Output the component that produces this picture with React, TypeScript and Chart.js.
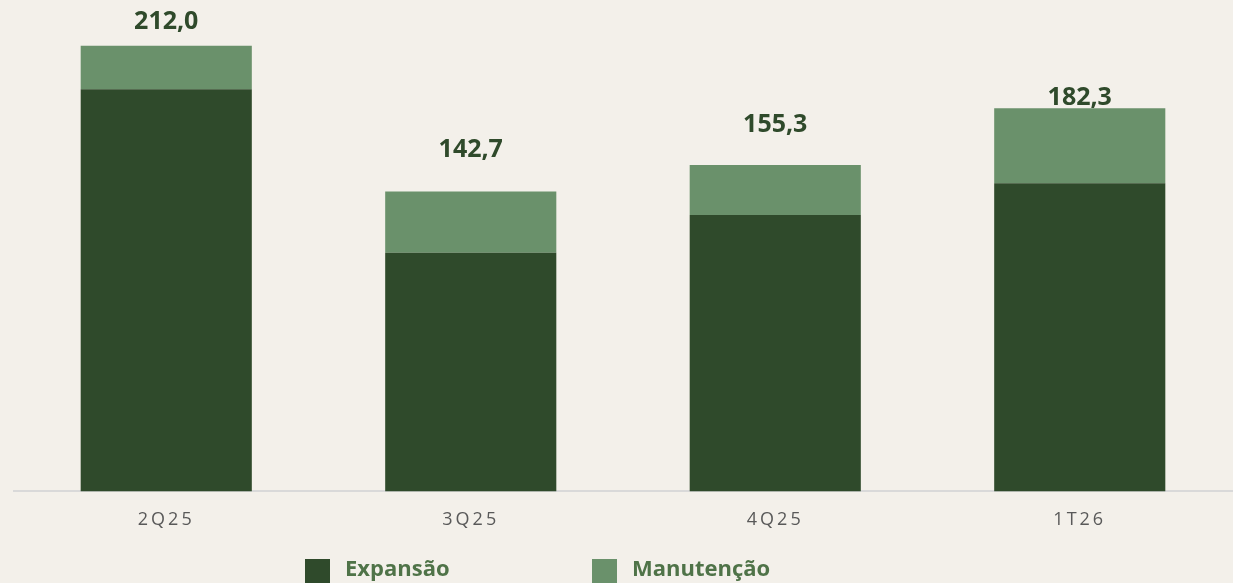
import React, { useEffect, useRef } from "react";
import { Chart, registerables } from "chart.js";

Chart.register(...registerables);

const categories = ["2Q25", "3Q25", "4Q25", "1T26"];
const expansao = [191.4, 113.5, 131.5, 146.6];
const manutencao = [20.6, 29.2, 23.8, 35.7];
const seriesNames = ["Expansão", "Manutenção"];

const COLORS = {
  bg: "#f3f0ea",
  dark: "#2f4a2b",
  light: "#6a916b",
  labelText: "#2f4a2b",
  legendText: "#4f7348",
  tick: "#595959",
  axis: "#d9d9d9",
};

const FONT = "'Open Sans', 'Noto Sans', sans-serif";

const fmt = (v: number) => v.toFixed(1).replace(".", ",");

const letterSpacingPlugin = {
  id: "tickSpacing",
  beforeDraw(chart: any) {
    (chart.ctx as any).letterSpacing = "3px";
  },
  beforeDatasetsDraw(chart: any) {
    (chart.ctx as any).letterSpacing = "0px";
  },
};

const totalsPlugin = {
  id: "totals",
  afterDatasetsDraw(chart: any, _args: any, opts: any) {
    const ctx = chart.ctx;
    const n = chart.data.datasets.length;
    const topMeta = chart.getDatasetMeta(n - 1);
    ctx.save();
    (ctx as any).letterSpacing = "0px";
    ctx.font = `bold 25px ${FONT}`;
    ctx.fillStyle = COLORS.labelText;
    ctx.textAlign = "center";
    ctx.textBaseline = "alphabetic";
    topMeta.data.forEach((el: any, i: number) => {
      let total = 0;
      chart.data.datasets.forEach((ds: any) => (total += ds.data[i]));
      const gap = (opts.gaps && opts.gaps[i]) ?? 20;
      ctx.fillText(fmt(total), el.x, el.y - gap);
    });
    ctx.restore();
  },
};

const legendPlugin = {
  id: "customLegend",
  afterDraw(chart: any, _args: any, opts: any) {
    const ctx = chart.ctx;
    ctx.save();
    (ctx as any).letterSpacing = "0px";
    ctx.font = `bold 22px ${FONT}`;
    ctx.textAlign = "left";
    ctx.textBaseline = "alphabetic";
    chart.data.datasets.forEach((ds: any, i: number) => {
      const x = opts.xs[i];
      ctx.fillStyle = ds.backgroundColor;
      ctx.fillRect(x, opts.boxTop, opts.box, opts.box);
      ctx.fillStyle = COLORS.legendText;
      ctx.fillText(ds.label, x + opts.box + 15, opts.baseline);
    });
    ctx.restore();
  },
};

export default function App() {
  const ref = useRef<HTMLCanvasElement | null>(null);

  useEffect(() => {
    if (!ref.current) return;
    const chart = new Chart(ref.current, {
      type: "bar",
      data: {
        labels: categories,
        datasets: [
          {
            label: seriesNames[0],
            data: expansao,
            backgroundColor: COLORS.dark,
            borderWidth: 0,
          },
          {
            label: seriesNames[1],
            data: manutencao,
            backgroundColor: COLORS.light,
            borderWidth: 0,
          },
        ],
      },
      options: {
        responsive: false,
        animation: false,
        layout: { padding: { left: 14, right: 1, top: 8, bottom: 34 } },
        datasets: {
          bar: { categoryPercentage: 1, barPercentage: 0.562 },
        },
        scales: {
          x: {
            stacked: true,
            grid: { display: false, drawTicks: false },
            border: { display: true, color: COLORS.axis, width: 2 },
            ticks: {
              color: COLORS.tick,
              font: { family: FONT, size: 18 },
              padding: 18,
            },
          },
          y: {
            stacked: true,
            display: false,
            min: 0,
            max: 230,
          },
        },
        plugins: {
          legend: { display: false },
          tooltip: { enabled: false },
          totals: { gaps: [17, 34, 33, 3] },
          customLegend: { xs: [305, 592], box: 25, boxTop: 559, baseline: 576 },
        } as any,
      },
      plugins: [letterSpacingPlugin, totalsPlugin, legendPlugin],
    });
    return () => chart.destroy();
  }, []);

  return (
    <div
      style={{
        position: "absolute",
        left: 0,
        top: 0,
        width: 1233,
        height: 583,
        background: COLORS.bg,
      }}
    >
      <canvas ref={ref} width={1233} height={583} />
    </div>
  );
}
